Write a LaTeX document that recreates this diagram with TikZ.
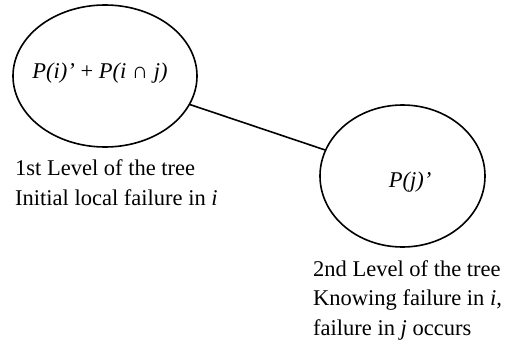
\documentclass[tikz,border=0pt]{standalone}
\usepackage{fontspec}
\setmainfont{Liberation Serif}
\usetikzlibrary{shapes.geometric}
\begin{document}
\begin{tikzpicture}[x=1pt,y=-1pt,
  font=\fontsize{22.5}{29.5}\selectfont,
  bubble/.style={draw, ellipse, line width=1.6pt, inner sep=0pt},
  lbl/.style={align=left, anchor=base west, inner sep=0pt},
  link/.style={line width=1.6pt}]
\useasboundingbox (0,0) rectangle (509,343);
\node[bubble, minimum width=184pt, minimum height=142pt] (a) at (105,76) {};
\node[bubble, minimum width=165pt, minimum height=142pt] (b) at (402.5,176) {};
\node[anchor=base, inner sep=0pt] (ta) at (100,78) {\itshape P(i)’ \upshape+ \itshape P(i \upshape∩\itshape\ j)};
\node[anchor=base, inner sep=0pt] (tb) at (410,187) {\itshape P(j)’};
\draw[link] (a) -- (b);
\node[lbl] (la) at (15,205) {1st Level of the tree\\Initial local failure in \textit{i}};
\node[lbl] (lb) at (313,335) {2nd Level of the tree\\Knowing failure in \textit{i},\\failure in \textit{j} occurs};
\end{tikzpicture}
\end{document}
